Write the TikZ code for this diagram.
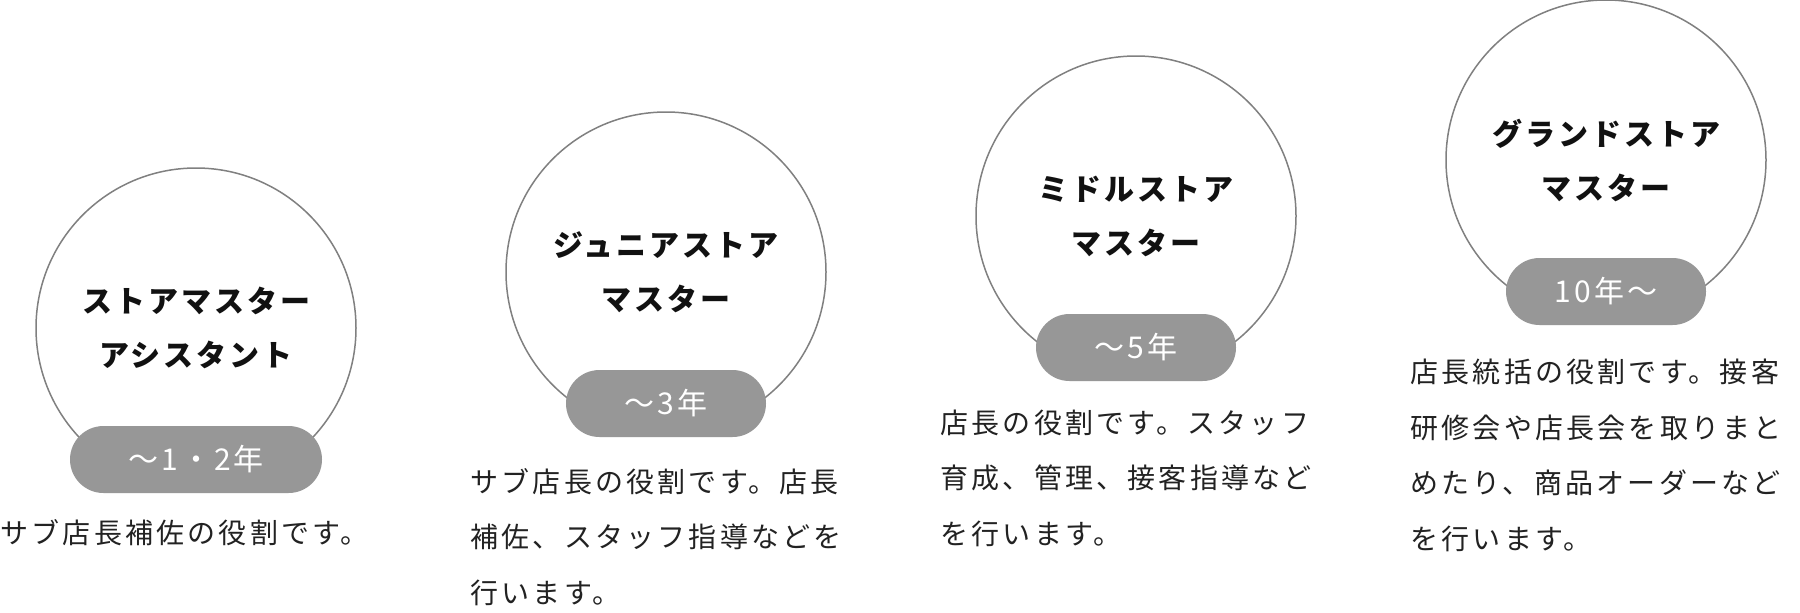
\documentclass[tikz,border=0pt]{standalone}
\usepackage{fontspec}
\newfontfamily\jpfont[LetterSpace=10]{Noto Sans CJK JP}
\newfontfamily\jpdescfont[LetterSpace=11.5]{Noto Sans CJK JP}
\definecolor{ringgray}{HTML}{808080}
\definecolor{pillgray}{HTML}{979797}
\definecolor{titlecol}{HTML}{111111}
\definecolor{desccol}{HTML}{222222}
\tikzset{
  ring/.style={circle, draw=ringgray, line width=0.75pt, fill=white, minimum size=160pt, inner sep=0pt},
  pill/.style={rectangle, rounded corners=16.75pt, fill=pillgray, text=white, minimum height=33.5pt, inner sep=0pt,
    font=\jpfont\fontsize{15pt}{15pt}\selectfont},
  ringtitle/.style={align=center, text=titlecol, inner sep=0pt, font=\jpfont\bfseries\fontsize{15pt}{27pt}\selectfont},
  desc/.style={anchor=base west, align=left, text width=200pt, inner sep=0pt, text=desccol,
    font=\jpdescfont\fontsize{14pt}{27.75pt}\selectfont}
}
\begin{document}
\begin{tikzpicture}[x=0.5pt,y=-0.5pt]
\fill[white] (0,0) rectangle (1800,612);
\useasboundingbox (0,0) rectangle (1800,612);
% circles
\node[ring] (c1) at (196,328) {};
\node[ring] (c2) at (666,272) {};
\node[ring] (c3) at (1136,216) {};
\node[ring] (c4) at (1606,160) {};
% titles
\node[ringtitle] (t1) at (c1.center) {ストアマスター\\アシスタント};
\node[ringtitle] (t2) at (c2.center) {ジュニアストア\\マスター};
\node[ringtitle] (t3) at (c3.center) {ミドルストア\\マスター};
\node[ringtitle] (t4) at (c4.center) {グランドストア\\マスター};
% pills
\node[pill, minimum width=126pt] (p1) at (196,459.5) {～1・2年};
\node[pill, minimum width=100pt] (p2) at (666,403.5) {～3年};
\node[pill, minimum width=100pt] (p3) at (1136,347.5) {～5年};
\node[pill, minimum width=100pt] (p4) at (1606,291.5) {10年～};
% descriptions
\node[desc] (d1) at (0,543.6) {サブ店長補佐の役割です。};
\node[desc] (d2) at (470,492) {サブ店長の役割です。店長\\補佐、スタッフ指導などを\\行います。};
\node[desc] (d3) at (940,433) {店長の役割です。スタッフ\\育成、管理、接客指導など\\を行います。};
\node[desc] (d4) at (1410,382.6) {店長統括の役割です。接客\\研修会や店長会を取りまと\\めたり、商品オーダーなど\\を行います。};
\end{tikzpicture}
\end{document}
